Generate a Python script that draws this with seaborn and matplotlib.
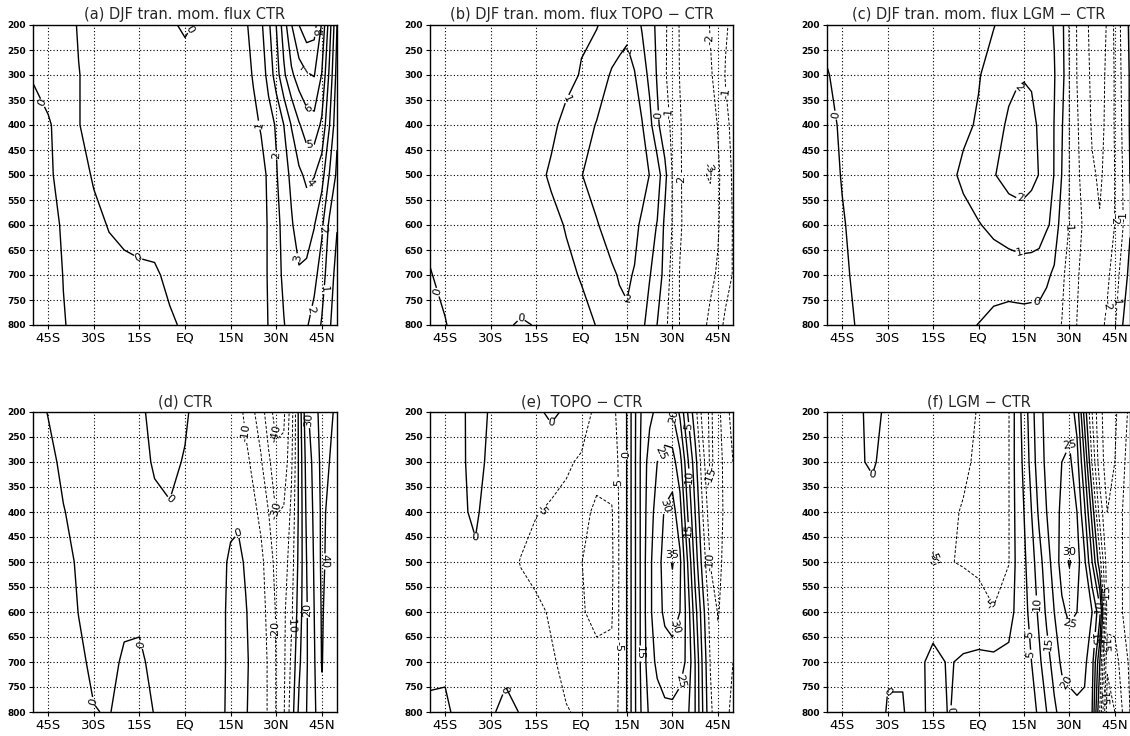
import numpy as np
import matplotlib
matplotlib.use("Agg")
import matplotlib.pyplot as plt
import seaborn as sns

# ---------------- data ----------------
LAT = [-50, -45, -40, -35, -30, -25, -20, -15, -10, -5, 0, 5, 10, 12.5, 15, 17.5,
       20, 22.5, 25, 27.5, 30, 32.5, 35, 37.5, 40, 42.5, 45, 47.5, 50]
PLEV = [200, 300, 400, 500, 600, 700, 800]

XTICKS = [-45, -30, -15, 0, 15, 30, 45]
XTICK_LABELS = ["45S", "30S", "15S", "EQ", "15N", "30N", "45N"]
YTICKS = [200, 250, 300, 350, 400, 450, 500, 550, 600, 650, 700, 750, 800]

TITLES = ["(a) DJF tran. mom. flux CTR",
          "(b) DJF tran. mom. flux TOPO \u2212 CTR",
          "(c) DJF tran. mom. flux LGM \u2212 CTR",
          "(d) CTR",
          "(e)  TOPO \u2212 CTR",
          "(f) LGM \u2212 CTR"]

# (a) transient momentum flux, CTR
FLUX_CTR = [
    [-0.3, -0.4, -0.3, 0.05, 0.3, 0.4, 0.4, 0.3, 0.2, 0.1, -0.1, 0.1, 0.4, 0.45, 0.5, 0.65, 0.9, 1.3, 1.8, 2.8, 4.0, 5.5, 6.95, 8.0, 8.6, 8.4, 6.9, 4.5, 2.0],
    [-0.02, -0.3, -0.3, -0.02, 0.2, 0.35, 0.4, 0.35, 0.3, 0.3, 0.3, 0.35, 0.4, 0.45, 0.5, 0.6, 0.8, 1.05, 1.5, 2.3, 3.5, 4.8, 5.8, 6.5, 6.9, 7.05, 5.95, 3.8, 1.6],
    [0.1, 0.08, -0.3, -0.02, 0.2, 0.3, 0.35, 0.35, 0.35, 0.35, 0.4, 0.4, 0.45, 0.5, 0.55, 0.6, 0.7, 0.85, 1.05, 1.6, 2.1, 3.0, 4.05, 4.9, 5.5, 5.6, 4.8, 3.05, 1.2],
    [0.2, 0.1, -0.2, -0.15, 0.04, 0.2, 0.3, 0.35, 0.4, 0.4, 0.45, 0.45, 0.5, 0.55, 0.6, 0.65, 0.7, 0.75, 0.8, 1.1, 1.9, 2.6, 3.2, 3.8, 4.2, 4.05, 3.4, 1.95, 0.8],
    [0.3, 0.15, -0.05, -0.2, -0.1, 0.02, 0.05, 0.1, 0.15, 0.2, 0.3, 0.4, 0.45, 0.5, 0.55, 0.6, 0.65, 0.72, 0.8, 1.05, 1.7, 2.3, 2.9, 3.4, 3.4, 3.05, 2.2, 0.8, 0.05],
    [0.3, 0.2, -0.01, -0.15, -0.15, -0.12, -0.05, -0.05, -0.05, 0.08, 0.3, 0.4, 0.45, 0.5, 0.55, 0.6, 0.65, 0.72, 0.8, 1.05, 1.6, 2.2, 2.7, 2.9, 2.8, 2.3, 1.5, 0.4, -0.3],
    [0.3, 0.15, 0.02, -0.1, -0.15, -0.15, -0.12, -0.1, -0.08, -0.05, 0.05, 0.3, 0.4, 0.5, 0.55, 0.6, 0.65, 0.72, 0.8, 1.02, 1.5, 1.95, 2.4, 2.5, 2.1, 1.6, 0.9, 0.1, -0.5],
]

# (b) transient momentum flux, TOPO - CTR
FLUX_TOPO = [
    [0.3, 0.35, 0.4, 0.45, 0.5, 0.55, 0.6, 0.65, 0.7, 0.8, 0.9, 0.95, 1.4, 1.6, 1.8, 1.5, 0.9, 0.4, -0.2, -0.9, -1.3, -2.1, -2.5, -2.7, -2.4, -1.95, -1.6, -1.1, -0.8],
    [0.2, 0.3, 0.4, 0.45, 0.5, 0.55, 0.6, 0.65, 0.7, 0.8, 1.05, 1.5, 2.1, 2.25, 2.3, 2.05, 1.5, 0.75, -0.1, -0.9, -1.4, -2.05, -2.5, -2.7, -2.6, -2.1, -1.7, -0.95, -0.7],
    [0.1, 0.2, 0.3, 0.4, 0.5, 0.6, 0.7, 0.75, 0.85, 1.2, 1.6, 2.05, 2.3, 2.35, 2.4, 2.3, 2.05, 1.3, 0.2, -0.6, -1.2, -1.9, -2.5, -2.8, -2.9, -2.6, -1.95, -1.2, -0.8],
    [0.05, 0.15, 0.25, 0.35, 0.45, 0.55, 0.65, 0.8, 1.1, 1.5, 1.98, 2.3, 2.45, 2.47, 2.45, 2.4, 2.35, 1.98, 1.5, 0.3, -1.05, -1.9, -2.4, -2.8, -2.9, -3.1, -2.2, -1.4, -0.9],
    [0.1, 0.15, 0.25, 0.35, 0.45, 0.55, 0.6, 0.7, 0.8, 1.05, 1.6, 1.95, 2.3, 2.35, 2.35, 2.2, 1.85, 1.4, 0.95, -0.2, -1.05, -1.9, -2.3, -2.5, -2.6, -2.5, -2.1, -1.5, -0.95],
    [-0.02, 0.1, 0.2, 0.3, 0.35, 0.35, 0.3, 0.4, 0.6, 0.85, 1.05, 1.4, 1.9, 2.05, 2.1, 1.95, 1.6, 1.05, 0.5, -0.3, -1.4, -2.05, -2.3, -2.4, -2.4, -2.2, -1.9, -1.4, -0.95],
    [-0.3, -0.02, 0.15, 0.2, 0.15, 0.05, -0.05, 0.02, 0.3, 0.6, 0.8, 1.02, 1.5, 1.8, 1.9, 1.6, 1.2, 0.6, -0.02, -0.85, -1.3, -2.05, -2.3, -2.4, -2.2, -1.8, -1.4, -0.8, -0.6],
]

# (c) transient momentum flux, LGM - CTR
FLUX_LGM = [
    [0.1, 0.2, 0.3, 0.35, 0.4, 0.45, 0.5, 0.55, 0.6, 0.7, 0.8, 0.97, 1.3, 1.45, 1.6, 1.6, 1.5, 1.25, 0.95, 0.3, -1.1, -2.05, -2.8, -3.2, -3.3, -2.95, -1.8, -0.7, 0.2],
    [-0.02, 0.1, 0.25, 0.35, 0.4, 0.45, 0.5, 0.55, 0.65, 0.85, 0.95, 1.3, 1.75, 1.9, 1.95, 1.9, 1.7, 1.4, 1.05, 0.4, -1.02, -2.02, -2.7, -3.15, -3.2, -2.9, -1.9, -0.8, 0.1],
    [-0.1, 0.05, 0.2, 0.3, 0.4, 0.45, 0.5, 0.55, 0.65, 0.85, 1.08, 1.6, 2.15, 2.25, 2.3, 2.2, 1.9, 1.5, 0.98, 0.1, -1.02, -1.9, -2.5, -3.1, -3.2, -2.85, -1.9, -0.9, 0.1],
    [-0.15, 0.02, 0.2, 0.3, 0.4, 0.45, 0.5, 0.6, 0.8, 1.15, 1.5, 1.95, 2.3, 2.35, 2.35, 2.2, 1.98, 1.5, 0.97, -0.02, -1.02, -1.8, -2.4, -2.9, -3.1, -2.8, -1.98, -1.02, 0.02],
    [-0.2, -0.03, 0.1, 0.25, 0.35, 0.4, 0.45, 0.5, 0.6, 0.75, 0.95, 1.2, 1.5, 1.58, 1.6, 1.55, 1.4, 1.1, 0.8, -0.6, -1.02, -1.6, -2.2, -2.7, -2.95, -2.7, -1.98, -1.1, -0.1],
    [-0.4, -0.06, 0.06, 0.2, 0.3, 0.35, 0.4, 0.45, 0.5, 0.6, 0.55, 0.5, 0.45, 0.5, 0.55, 0.55, 0.55, 0.2, -0.2, -0.8, -1.4, -1.9, -2.3, -2.5, -2.5, -2.2, -1.5, -0.6, 0.3],
    [-0.3, -0.1, 0.02, 0.1, 0.15, 0.2, 0.2, 0.2, 0.2, 0.15, -0.02, -0.3, -0.4, -0.4, -0.4, -0.45, -0.5, -0.6, -0.8, -1.02, -1.4, -2.02, -2.4, -2.6, -2.3, -1.8, -1.1, -0.02, 0.5],
]

# (d) CTR
U_CTR = [
    [3, -0.3, -2, -3, -3, -3, -2, -1, 1.5, 3, 1, -3, -2, -2.5, -3, -7, -12, -19, -25, -36, -44, -42, -25, 3, 28, 36, 44, 42, 38],
    [4, 2, -1.5, -3, -3, -3, -2.5, -1.5, 0.5, 1.5, -0.5, -3, -3, -3, -2.5, -4, -8, -12, -19, -28, -37, -37, -22, 2, 24, 33, 43, 40, 37],
    [5, 3, 0.3, -2, -2.5, -2.5, -2, -1.5, -1, -0.5, -1.5, -2.5, -2.5, -2, -1.5, -1.5, -5, -8, -12, -20, -30.5, -29, -18, 2, 22, 32, 42, 38, 36],
    [5, 4, 2, -0.8, -2, -2, -2, -2, -2, -2, -2, -2, -2, -1, 1, 2, -1, -4, -8, -14, -24, -25, -15, 3, 20, 31, 42, 37, 35],
    [5, 4, 2.5, -0.1, -2, -2, -1.5, -1, -1.5, -2, -2, -2, -2, -1, 2, 3, 0.5, -3, -7, -12, -21, -22, -12, 5, 19, 30, 41, 36, 34],
    [5, 4, 3, 1, -1, -2, 1, 1, -1.5, -2, -2, -2, -2, -1.5, 3, 3, 1, -2, -6, -11, -20.5, -22, -8, 8, 19, 29, 40.5, 35, 33],
    [6, 5, 4, 2, 0.2, -0.3, 2, 2, -0.2, -2, -3, -3, -2, -1, 3, 2.5, 0.5, -2, -6, -11, -20.5, -21, -5, 12, 20, 28, 38, 34, 32],
]

# (e) TOPO - CTR
U_TOPO = [
    [-1, -1.5, -1, 2, -0.5, -2, -2, -1, 1, -0.8, -3, -6, -6, -4, 0.2, 9, 16, 19, 21, 21, 20, 14, 5, -3, -12, -16, -12, -6, -4],
    [-1, -1.5, -0.8, 1.5, -1, -2, -2.5, -3, -3.5, -4.5, -5.5, -8, -7, -4.5, 0.2, 9, 17, 22, 25, 27, 27, 22, 11, 2, -8, -16, -13, -8, -5],
    [-1, -1, -0.5, 0.5, -1.5, -2.5, -3.5, -4.8, -5.5, -6, -8.5, -11, -10.5, -4.5, 0.2, 9, 17, 23, 27, 30.5, 32, 27, 15, 5, -5, -13, -12, -9, -5],
    [-0.8, -1, -1.5, -0.5, -2, -3.5, -5.2, -6.5, -7, -8, -9.9, -12, -11, -4.5, 0.2, 9, 17, 24, 28, 32, 35.5, 31, 20, 8, -2, -10.2, -11, -9, -5],
    [-0.5, -0.8, -1.5, -2, -2.5, -3, -3.5, -4, -5.5, -7, -9.5, -11.5, -10.5, -4.5, 0.2, 9, 17, 24, 28, 31, 32, 30, 23, 12, 2, -7, -10.2, -9, -5],
    [-0.4, -0.3, -1, -1.5, -1.5, -1, -2, -3, -4.5, -6, -7, -8.5, -9, -4.5, 0.2, 9, 17, 23, 26, 27.5, 28, 27, 24, 15, 4, -5.2, -9, -8, -5],
    [0.3, 0.3, -0.5, -1, -0.5, 1, -0.2, -2, -3.5, -4.8, -5.5, -6.5, -7, -4.5, 0.2, 9, 16, 21, 23, 24, 24, 23, 21, 15, 5, -4, -8, -6, -4],
]

# (f) LGM - CTR
U_LGM = [
    [-1, -1.5, -1, 1.5, -1, -2, -2.5, -3, -3.5, -4, -5.2, -6.5, -5.2, 2, 7, 13, 19, 21, 22, 23, 23, 18, 3, -10, -19, -22, -21, -17, -14],
    [-1, -1.5, -0.5, 0.5, -1.5, -2, -2.5, -3, -3.5, -4.5, -5.5, -6.5, -5.2, 2, 6, 12, 18, 21, 23, 25, 26, 22, 10, -5.5, -18, -22, -20, -16, -13],
    [-1, -1.5, -1.5, -1.5, -2, -2.5, -3, -3.5, -4.5, -5.2, -5.5, -6.5, -5.2, 1.5, 5, 10, 16, 20, 23, 26, 28, 25, 16, 3, -12, -20, -19, -15, -12],
    [-1, -1.5, -1.5, -2, -2.5, -3, -4, -5.2, -4.8, -5.3, -6, -6.5, -5.2, 1, 4, 8, 13, 18, 22, 27, 30.5, 27, 21, 10, -3, -18, -18, -15, -12],
    [-1, -1.2, -1.5, -2, -2.5, -3, -3, -2, -2.5, -2.5, -3, -4.8, -2, 1, 3, 7, 11, 16, 20, 24, 26, 25, 23, 20, 12, -17, -18, -15, -12],
    [-1, -1.2, -1.5, -1.5, -0.3, -0.3, -1, 1.2, -0.3, 0.5, 1, 1.2, 1.3, 1.5, 2, 5, 9, 13, 17, 21, 22, 22, 21, 17, 0.5, -24, -22, -18, -14],
    [-0.8, -1, -1, -1.5, 0.2, 0.2, -1.5, 1.5, -0.1, 0.5, 1, 1, 1, 1, 1.5, 3, 6, 10, 14, 17, 18, 19, 19, 15, -5, -28, -25, -20, -15],
]

FIELDS = [FLUX_CTR, FLUX_TOPO, FLUX_LGM, U_CTR, U_TOPO, U_LGM]
INTERVALS = [1, 1, 1, 10, 5, 5]

# where the contour labels sit (lat, hPa)
LABELS_A = [(-45, 350), (2.6, 212), (-15, 660), (24.6, 400), (30, 460), (41, 213), (41, 287),
            (41, 363), (41, 437), (41, 517), (35.6, 667), (46, 610), (47.1, 730), (41, 770)]
LABELS_B = [(-46.7, 733), (-19.4, 773), (-4.1, 350), (15.9, 250), (14.8, 777), (24.8, 380),
            (30.3, 377), (33.6, 510), (40.7, 230), (46.7, 337), (41.2, 483)]
LABELS_C = [(-46.8, 380), (13.7, 327), (13.7, 563), (13.7, 653), (19, 754), (30.2, 603),
            (41.2, 590), (46.7, 583), (41.2, 760), (46.7, 750)]
LABELS_D = [(-30.2, 779), (-14.9, 666), (-3.3, 376), (18.6, 436), (18.6, 243), (30.1, 243),
            (30.1, 396), (29.6, 636), (35.7, 623), (40.7, 596), (41.3, 216), (46.8, 499)]
LABELS_E = [(-35.9, 469), (-8.3, 229), (-25.7, 756), (-12.6, 399), (9.4, 343), (8.85, 669),
            (13.8, 286), (18.75, 683), (24.8, 279), (28.1, 389), (30.3, 479), (30.3, 629),
            (30.3, 736), (30.3, 209), (35.8, 229), (35.8, 329), (35.8, 436), (41.8, 329), (41.8, 499)]
LABELS_F = [(-36, 333), (-30.5, 755), (-8.3, 796), (13.7, 686), (-13.8, 476), (2.7, 589),
            (19.2, 583), (18.1, 643), (23.6, 663), (30.2, 266), (30.2, 476), (30.2, 623),
            (30.2, 736), (39.6, 589), (38.5, 656), (42.3, 563), (41.8, 663), (41.2, 769)]
LABELS = [LABELS_A, LABELS_B, LABELS_C, LABELS_D, LABELS_E, LABELS_F]

# ---------------- style ----------------
sns.set_theme(style="ticks")
plt.rcParams["font.family"] = ["DejaVu Sans"]
plt.rcParams["lines.dashed_pattern"] = [3.0, 1.8]

W, H = 1130, 736
fig = plt.figure(figsize=(W / 100, H / 100), dpi=100)

col_x = [33, 430, 827]
col_w = [304, 303, 303]
row_top = [25, 412]
ax_h = 300


def fmt(v):
    return "%d" % round(v)


for i, (field, step, title, labpos) in enumerate(zip(FIELDS, INTERVALS, TITLES, LABELS)):
    r, c = divmod(i, 3)
    left = col_x[c] / W
    bottom = 1 - (row_top[r] + ax_h) / H
    ax = fig.add_axes([left, bottom, col_w[c] / W, ax_h / H])

    Z = np.array(field, dtype=float)
    X, Y = np.meshgrid(LAT, PLEV)
    lo = np.floor(Z.min() / step) * step
    hi = np.ceil(Z.max() / step) * step
    levels = np.arange(lo, hi + step / 2, step)
    styles = ["dashed" if l < 0 else "solid" for l in levels]
    widths = [0.7 if l < 0 else 1.0 for l in levels]

    cs = ax.contour(X, Y, Z, levels=levels, colors="black",
                    linewidths=widths, linestyles=styles, zorder=3)
    ax.clabel(cs, fmt=fmt, fontsize=8, inline=True, inline_spacing=1,
              manual=labpos)

    ax.set_xlim(-50, 50)
    ax.set_ylim(800, 200)
    ax.set_xticks(XTICKS)
    ax.set_xticklabels(XTICK_LABELS, fontsize=9.5)
    ax.set_yticks(YTICKS)
    ax.set_yticklabels([str(v) for v in YTICKS], fontsize=6.5, fontweight="bold")
    ax.tick_params(axis="both", direction="out", length=3, width=0.8, pad=2, colors="black")
    ax.grid(True, color="black", linestyle=(0, (1, 2)), linewidth=0.8)
    for s in ax.spines.values():
        s.set_color("black")
        s.set_linewidth(1.0)
    ax.set_title(title, fontsize=10.5, pad=4)

fig.savefig("out.png", dpi=100)
